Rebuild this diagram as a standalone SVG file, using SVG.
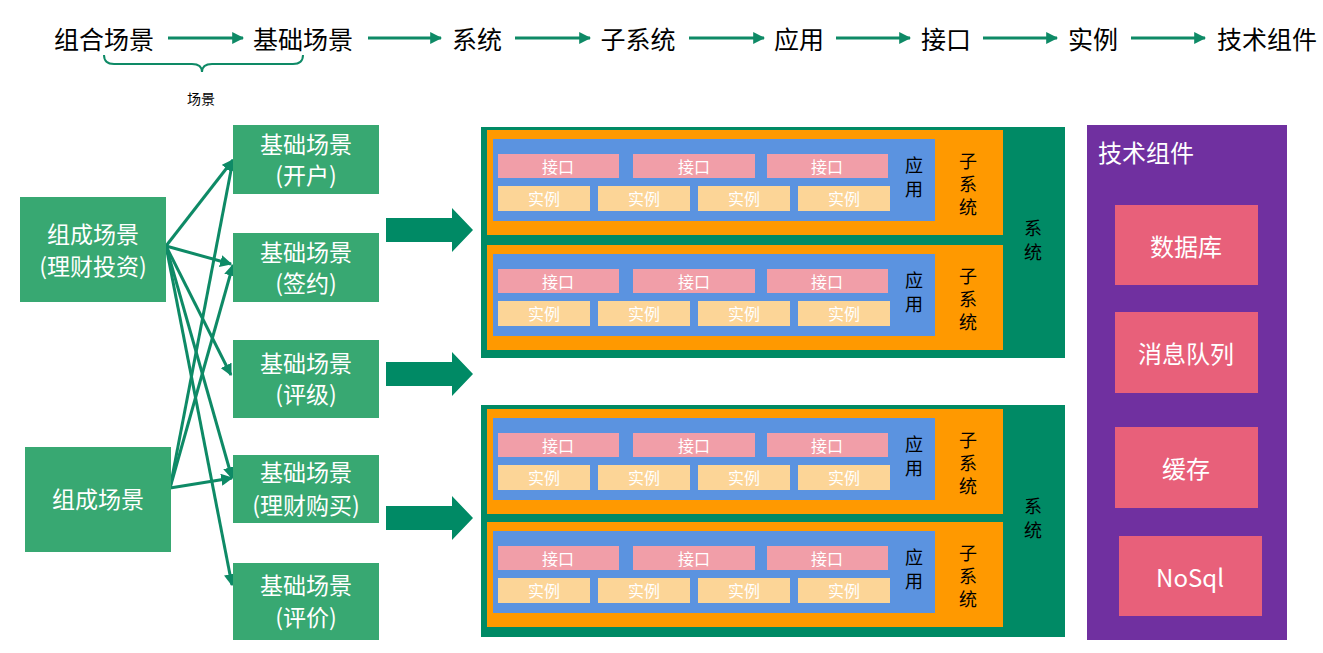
<svg xmlns="http://www.w3.org/2000/svg" width="1323" height="653" viewBox="0 0 1323 653">
<defs>
<style>
text{font-family:"Noto Sans CJK SC","Liberation Sans",sans-serif;}
.top{font-size:25px;fill:#000;text-anchor:middle;dominant-baseline:central}
.g{fill:#38a872}
.gt{font-size:23px;fill:#fff;text-anchor:middle}
.sys{fill:#008a65}
.sub{fill:#ff9900}
.app{fill:#5b93e0}
.if{fill:#f19ea8}
.in{fill:#fcd597}
.st{font-size:16px;fill:#fff;text-anchor:middle;dominant-baseline:central}
.vt{font-size:18px;fill:#000;text-anchor:middle}
.tc{fill:#e8607a}
.tct{font-size:24px;fill:#fff;text-anchor:middle;dominant-baseline:central}
.ln{stroke:#0e8a66;stroke-width:3;fill:none;marker-end:url(#ah)}
</style>
<marker id="ah" viewBox="0 0 10 10" refX="9" refY="5" markerWidth="4" markerHeight="4" orient="auto"><path d="M0,0 L10,5 L0,10 z" fill="#0e8a66"/></marker>
<g id="subsys">
<rect class="sub" x="0" y="0" width="516" height="105"/>
<rect class="app" x="6" y="9" width="442" height="82"/>
<rect class="if" x="11" y="24" width="121" height="24"/><text class="st" x="71" y="36">接口</text>
<rect class="if" x="146" y="24" width="122" height="24"/><text class="st" x="207" y="36">接口</text>
<rect class="if" x="280" y="24" width="121" height="24"/><text class="st" x="340" y="36">接口</text>
<rect class="in" x="11" y="56" width="92" height="25"/><text class="st" x="57" y="68">实例</text>
<rect class="in" x="111" y="56" width="92" height="25"/><text class="st" x="157" y="68">实例</text>
<rect class="in" x="211" y="56" width="92" height="25"/><text class="st" x="257" y="68">实例</text>
<rect class="in" x="311" y="56" width="92" height="25"/><text class="st" x="357" y="68">实例</text>
<text class="vt" x="427" y="42">应</text><text class="vt" x="427" y="66">用</text>
<text class="vt" x="481" y="38">子</text><text class="vt" x="481" y="61">系</text><text class="vt" x="481" y="84">统</text>
</g>
</defs>
<rect width="1323" height="653" fill="#fff"/>

<g id="top-row">
<text class="top" x="104" y="38">组合场景</text>
<text class="top" x="303" y="38">基础场景</text>
<text class="top" x="477" y="38">系统</text>
<text class="top" x="638" y="38">子系统</text>
<text class="top" x="799" y="38">应用</text>
<text class="top" x="946" y="38">接口</text>
<text class="top" x="1093" y="38">实例</text>
<text class="top" x="1267" y="38">技术组件</text>
<path d="M104,55 Q104,64 114,64 L192,64 Q202,64 202,72 Q202,64 212,64 L293,64 Q303,64 303,55" stroke="#0e8a66" stroke-width="2" fill="none"/>
<text x="201" y="98" font-size="14" text-anchor="middle" dominant-baseline="central">场景</text>
</g>

<g id="connectors">
<line class="ln" x1="168" y1="38" x2="243" y2="38"/>
<line class="ln" x1="368" y1="38" x2="441" y2="38"/>
<line class="ln" x1="515" y1="38" x2="590" y2="38"/>
<line class="ln" x1="689" y1="38" x2="764" y2="38"/>
<line class="ln" x1="836" y1="38" x2="910" y2="38"/>
<line class="ln" x1="983" y1="38" x2="1057" y2="38"/>
<line class="ln" x1="1131" y1="38" x2="1205" y2="38"/>
<line class="ln" x1="166" y1="246" x2="233" y2="160"/>
<line class="ln" x1="166" y1="246" x2="231" y2="264"/>
<line class="ln" x1="166" y1="246" x2="231" y2="375"/>
<line class="ln" x1="166" y1="246" x2="232" y2="478"/>
<line class="ln" x1="166" y1="246" x2="232" y2="585"/>
<line class="ln" x1="170" y1="488" x2="233" y2="160"/>
<line class="ln" x1="170" y1="488" x2="233" y2="265"/>
<line class="ln" x1="170" y1="488" x2="232" y2="478"/>
<path d="M386,218 L452,218 L452,208 L473,230 L452,252 L452,242 L386,242 z" fill="#008a65"/>
<path d="M386,362 L452,362 L452,352 L473,374 L452,396 L452,386 L386,386 z" fill="#008a65"/>
<path d="M386,506 L452,506 L452,496 L473,518 L452,540 L452,530 L386,530 z" fill="#008a65"/>
</g>

<g id="combo1"><rect class="g" x="20" y="197" width="146" height="105"/><text class="gt" x="93" y="243">组成场景</text><text class="gt" x="93" y="275">(理财投资)</text></g>
<g id="combo2"><rect class="g" x="25" y="447" width="146" height="105"/><text class="gt" x="98" y="508">组成场景</text></g>
<g id="base1"><rect class="g" x="233" y="125" width="146" height="69"/><text class="gt" x="306" y="153">基础场景</text><text class="gt" x="306" y="184">(开户)</text></g>
<g id="base2"><rect class="g" x="233" y="233" width="146" height="69"/><text class="gt" x="306" y="261">基础场景</text><text class="gt" x="306" y="292">(签约)</text></g>
<g id="base3"><rect class="g" x="233" y="340" width="146" height="78"/><text class="gt" x="306" y="372">基础场景</text><text class="gt" x="306" y="403">(评级)</text></g>
<g id="base4"><rect class="g" x="233" y="455" width="146" height="68"/><text class="gt" x="306" y="481">基础场景</text><text class="gt" x="306" y="514">(理财购买)</text></g>
<g id="base5"><rect class="g" x="233" y="563" width="146" height="77"/><text class="gt" x="306" y="594">基础场景</text><text class="gt" x="306" y="626">(评价)</text></g>

<g id="system1">
<rect class="sys" x="481" y="127" width="584" height="231"/>
<use href="#subsys" x="487" y="130"/>
<use href="#subsys" x="487" y="245"/>
<text class="vt" x="1033" y="235">系</text><text class="vt" x="1033" y="259">统</text>
</g>
<g id="system2">
<rect class="sys" x="481" y="405" width="584" height="232"/>
<use href="#subsys" x="487" y="409"/>
<use href="#subsys" x="487" y="522"/>
<text class="vt" x="1033" y="513">系</text><text class="vt" x="1033" y="537">统</text>
</g>

<g id="tech">
<rect x="1087" y="125" width="200" height="515" fill="#7030a0"/>
<text x="1098" y="162" font-size="24" fill="#fff">技术组件</text>
<g id="db"><rect class="tc" x="1115" y="205" width="143" height="80"/><text class="tct" x="1186" y="245">数据库</text></g>
<g id="mq"><rect class="tc" x="1115" y="312" width="143" height="81"/><text class="tct" x="1186" y="352">消息队列</text></g>
<g id="cache"><rect class="tc" x="1115" y="427" width="143" height="81"/><text class="tct" x="1186" y="467">缓存</text></g>
<g id="nosql"><rect class="tc" x="1119" y="536" width="143" height="80"/><text class="tct" x="1190" y="576">NoSql</text></g>
</g>
</svg>
